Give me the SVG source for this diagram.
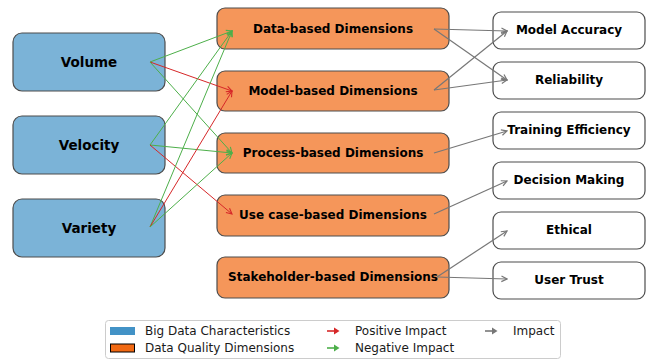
<svg xmlns="http://www.w3.org/2000/svg" width="649" height="360" viewBox="0 0 649 360">
<style>
.bd{fill:#7bb3d7;stroke:#4d4d4d;stroke-width:1.2}
.dq{fill:#f5965a;stroke:#4d4d4d;stroke-width:1.2}
.out{fill:#ffffff;stroke:#4d4d4d;stroke-width:1.2}
.t{font-family:"DejaVu Sans",sans-serif;font-weight:bold;font-size:12px;fill:#000;text-anchor:middle;dominant-baseline:central}
.tb{font-size:13.5px}
.lg{font-family:"DejaVu Sans",sans-serif;font-size:12px;fill:#1a1a1a;dominant-baseline:central}
.g{stroke:#4daf4a;stroke-width:1;fill:none;marker-end:url(#mg)}
.r{stroke:#d62728;stroke-width:1;fill:none;marker-end:url(#mr)}
.k{stroke:#777777;stroke-width:1.2;fill:none;marker-end:url(#mk)}
</style>
<defs>
<marker id="mg" viewBox="-1 -4 8 8" refX="5.6" refY="0" markerWidth="8" markerHeight="8" markerUnits="userSpaceOnUse" orient="auto"><path d="M0,-2.8 L5.6,0 L0,2.8" fill="none" stroke="#4daf4a" stroke-width="1.1"/></marker>
<marker id="mr" viewBox="-1 -4 8 8" refX="5.6" refY="0" markerWidth="8" markerHeight="8" markerUnits="userSpaceOnUse" orient="auto"><path d="M0,-2.8 L5.6,0 L0,2.8" fill="none" stroke="#d62728" stroke-width="1.1"/></marker>
<marker id="mk" viewBox="-1 -4 8 8" refX="5.6" refY="0" markerWidth="8" markerHeight="8" markerUnits="userSpaceOnUse" orient="auto"><path d="M0,-2.8 L5.6,0 L0,2.8" fill="none" stroke="#777777" stroke-width="1.2"/></marker>
</defs>
<rect width="649" height="360" fill="#ffffff"/>
<g id="volume"><rect class="bd" x="13" y="33" width="152" height="58" rx="9"/><text class="t tb" x="89" y="62">Volume</text></g>
<g id="velocity"><rect class="bd" x="13" y="116" width="152" height="58" rx="9"/><text class="t tb" x="89" y="145">Velocity</text></g>
<g id="variety"><rect class="bd" x="13" y="199" width="152" height="58" rx="9"/><text class="t tb" x="89" y="228">Variety</text></g>
<g id="data-based"><rect class="dq" x="217" y="8" width="232" height="41" rx="8"/><text class="t" x="333" y="28.5">Data-based Dimensions</text></g>
<g id="model-based"><rect class="dq" x="217" y="71" width="232" height="40" rx="8"/><text class="t" x="333" y="90.5">Model-based Dimensions</text></g>
<g id="process-based"><rect class="dq" x="217" y="133" width="232" height="40" rx="8"/><text class="t" x="333" y="152.5">Process-based Dimensions</text></g>
<g id="usecase-based"><rect class="dq" x="217" y="195" width="232" height="41" rx="8"/><text class="t" x="333" y="214.5">Use case-based Dimensions</text></g>
<g id="stakeholder-based"><rect class="dq" x="217" y="257" width="232" height="41" rx="8"/><text class="t" x="333" y="277">Stakeholder-based Dimensions</text></g>
<g id="model-accuracy"><rect class="out" x="493" y="12" width="152" height="37" rx="8"/><text class="t" x="569" y="30">Model Accuracy</text></g>
<g id="reliability"><rect class="out" x="493" y="62" width="152" height="37" rx="8"/><text class="t" x="569" y="80">Reliability</text></g>
<g id="training-efficiency"><rect class="out" x="493" y="112" width="152" height="37" rx="8"/><text class="t" x="569" y="130">Training Efficiency</text></g>
<g id="decision-making"><rect class="out" x="493" y="162" width="152" height="37" rx="8"/><text class="t" x="569" y="180">Decision Making</text></g>
<g id="ethical"><rect class="out" x="493" y="212" width="152" height="37" rx="8"/><text class="t" x="569" y="230">Ethical</text></g>
<g id="user-trust"><rect class="out" x="493" y="262" width="152" height="37" rx="8"/><text class="t" x="569" y="280">User Trust</text></g>
<g id="connectors">
<line class="g" x1="150" y1="62" x2="232" y2="31"/>
<line class="r" x1="150" y1="62" x2="232" y2="91"/>
<line class="g" x1="150" y1="62" x2="232" y2="153"/>
<line class="g" x1="150" y1="145" x2="232" y2="31"/>
<line class="g" x1="150" y1="145" x2="232" y2="153"/>
<line class="r" x1="150" y1="145" x2="232" y2="214"/>
<line class="g" x1="150" y1="227" x2="232" y2="31"/>
<line class="r" x1="150" y1="227" x2="232" y2="91"/>
<line class="g" x1="150" y1="227" x2="232" y2="153"/>
<line class="k" x1="434" y1="29" x2="507" y2="31"/>
<line class="k" x1="434" y1="29" x2="507" y2="80"/>
<line class="k" x1="434" y1="90" x2="507" y2="31"/>
<line class="k" x1="434" y1="90" x2="507" y2="80"/>
<line class="k" x1="434" y1="153" x2="507" y2="131"/>
<line class="k" x1="434" y1="214" x2="507" y2="181"/>
<line class="k" x1="437" y1="277" x2="507" y2="231"/>
<line class="k" x1="437" y1="277" x2="507" y2="279"/>
</g>
<g id="legend">
<rect x="105.5" y="320.5" width="455" height="38" rx="3" fill="#ffffff" fill-opacity="0.8" stroke="#cccccc" stroke-width="1"/>
<rect x="110" y="327" width="25" height="8" fill="#4292c6"/>
<rect x="110.5" y="344" width="24" height="8" fill="#f16913" stroke="#000000" stroke-width="1"/>
<text class="lg" x="145" y="331">Big Data Characteristics</text>
<text class="lg" x="145" y="348">Data Quality Dimensions</text>
<line x1="327" y1="331" x2="335" y2="331" stroke="#d62728" stroke-width="1.6"/>
<path d="M334,327.5 L339.5,331 L334,334.5 Z" fill="#d62728"/>
<text class="lg" x="355" y="331">Positive Impact</text>
<line x1="327" y1="348" x2="335" y2="348" stroke="#4daf4a" stroke-width="1.6"/>
<path d="M334,344.5 L339.5,348 L334,351.5 Z" fill="#4daf4a"/>
<text class="lg" x="355" y="348">Negative Impact</text>
<line x1="485" y1="331" x2="493" y2="331" stroke="#777777" stroke-width="1.6"/>
<path d="M492,327.5 L497.5,331 L492,334.5 Z" fill="#777777"/>
<text class="lg" x="513" y="331">Impact</text>
</g>
</svg>
